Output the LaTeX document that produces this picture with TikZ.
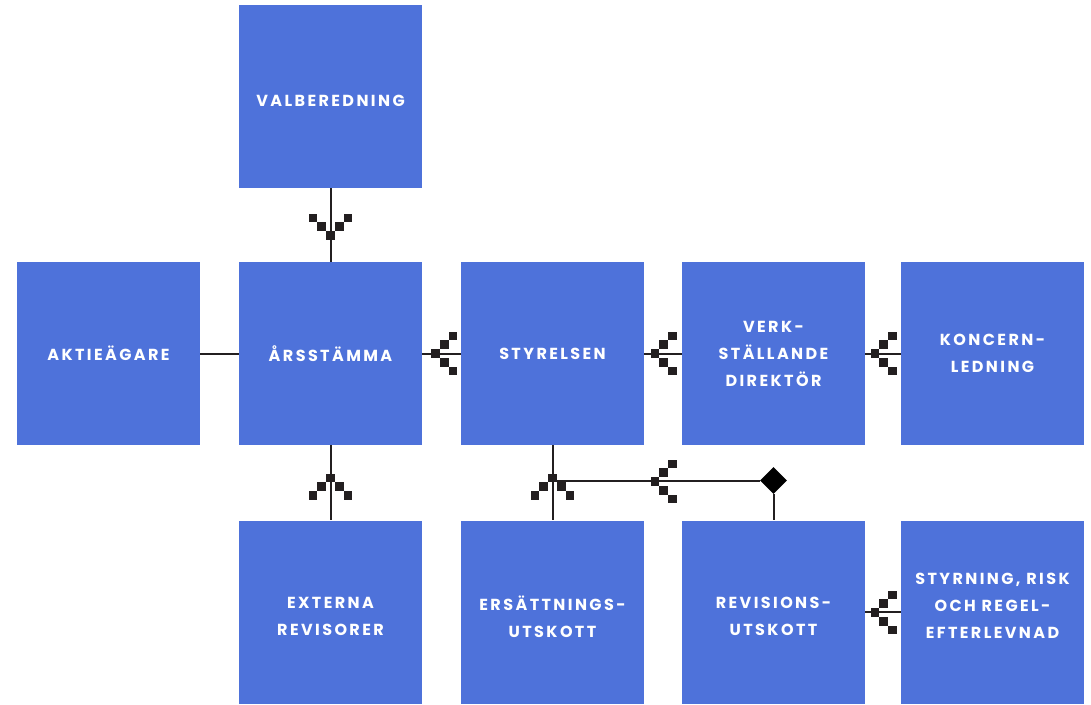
\documentclass[tikz,border=0pt]{standalone}
\usepackage{fontspec}
\setmainfont{Poppins}[LetterSpace=15]
\usetikzlibrary{shapes.geometric}

\definecolor{ruta}{RGB}{78,114,218}
\definecolor{streck}{RGB}{35,31,32}

\begin{document}
\begin{tikzpicture}[
        x=1pt,y=-1pt
        ,box/.style={fill=ruta,text=white,minimum width=183pt,minimum height=183pt,inner sep=0pt,
            align=center,font=\bfseries\fontsize{16}{27}\selectfont}
        ,lin/.style={draw=streck,line width=2pt}
        ,sq/.style={fill=streck}
        ,pixhead/.pic={
            \foreach \i in {0,1,2} {
                \fill[sq] (\i*8.7-4.35,\i*8.7-4.35) rectangle ++(8.7,8.7);
                \fill[sq] (\i*8.7-4.35,-\i*8.7-4.35) rectangle ++(8.7,8.7);
            }
        }
    ]
    \useasboundingbox (0,0) rectangle (1091,704);
    % Rutor
    \node[box] (valb) at (330.5,96.5) {VALBEREDNING\\[-35pt]};
    \node[box] (akt) at (108.5,353.5) {AKTIEÄGARE};
    \node[box] (arss) at (330.5,353.5) {ÅRSSTÄMMA};
    \node[box] (styr) at (552.5,353.5) {STYRELSEN};
    \node[box] (vd) at (773.5,353.5) {VERK-\\STÄLLANDE\\DIREKTÖR};
    \node[box] (konc) at (992.5,353.5) {KONCERN-\\LEDNING};
    \node[box] (ext) at (330.5,612) {EXTERNA\\REVISORER\\[-36pt]};
    \node[box] (ers) at (552.5,612) {ERSÄTTNINGS-\\UTSKOTT\\[-36pt]};
    \node[box] (rev) at (773.5,612) {REVISIONS-\\UTSKOTT\\[-36pt]};
    \node[box] (risk) at (992.5,612) {STYRNING, RISK\\OCH REGEL-\\EFTERLEVNAD\\[-15pt]};
    % Linjer
    \draw[lin] (valb) -- (arss);
    \draw[lin] (akt) -- (arss);
    \draw[lin] (arss) -- (styr);
    \draw[lin] (styr) -- (vd);
    \draw[lin] (vd) -- (konc);
    \draw[lin] (arss) -- (ext);
    \draw[lin] (styr.south) -- (ers.north);
    \draw[lin] (rev.east |- 612,612) -- (risk.west |- 612,612);
    \coordinate (gren) at (552.5,480.5);
    \node[diamond,fill=black,minimum width=27pt,minimum height=27pt,inner sep=0pt] (dia) at (773.5,480.5) {};
    \draw[lin] (gren) -- (dia.west);
    \draw[lin] (dia.south) -- (rev.north);
    % Pilspetsar
    \pic[rotate=90] at (330.5,235.5) {pixhead};
    \pic at (435.5,353.5) {pixhead};
    \pic at (655,353.5) {pixhead};
    \pic at (875,353.5) {pixhead};
    \pic[rotate=-90] at (330.5,478) {pixhead};
    \pic[rotate=-90] at (552.5,478) {pixhead};
    \pic at (655,481.5) {pixhead};
    \pic at (875,612.5) {pixhead};
\end{tikzpicture}
\end{document}
